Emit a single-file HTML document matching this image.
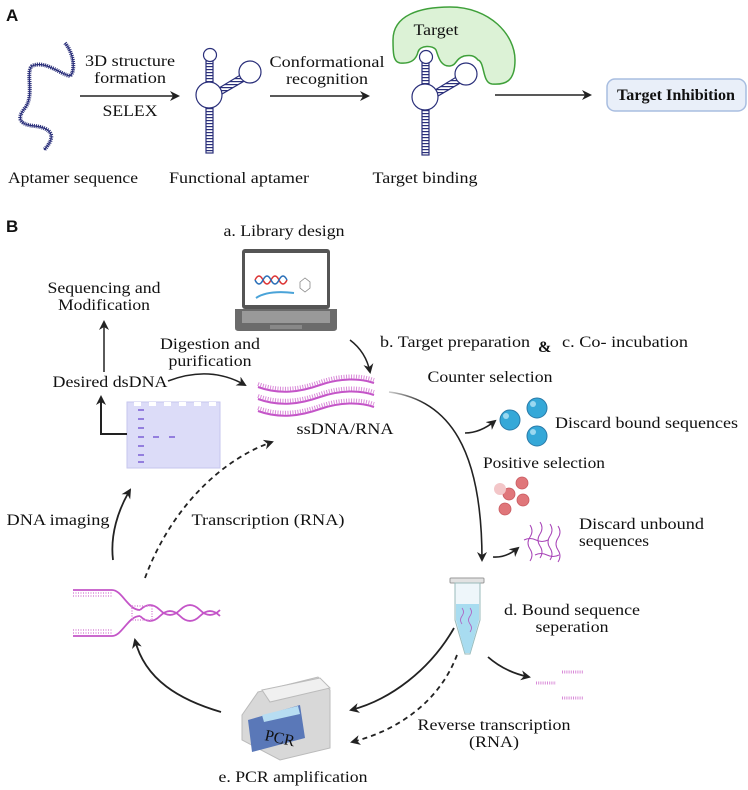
<!DOCTYPE html>
<html><head><meta charset="utf-8"><style>
html,body{margin:0;padding:0;background:#fff;}
svg{display:block;}
text{font-family:"Liberation Serif",serif;font-size:16px;fill:#111;}
.s{font-family:"Liberation Sans",sans-serif;font-weight:bold;font-size:17px;}
</style></head><body>
<svg width="748" height="790" viewBox="0 0 748 790" xmlns="http://www.w3.org/2000/svg">
<defs>
<marker id="ah" markerWidth="10" markerHeight="10" refX="8" refY="5" orient="auto" markerUnits="userSpaceOnUse"><path d="M0,0 L10,5 L0,10 L3,5 Z" fill="#222"/></marker>
<pattern id="rung" width="2" height="3" patternUnits="userSpaceOnUse"><rect width="2" height="1.2" fill="#2a2f7a"/></pattern>
<linearGradient id="fade1" x1="0" y1="0" x2="1" y2="0"><stop offset="0" stop-color="#ccc"/><stop offset="0.4" stop-color="#222"/></linearGradient>
</defs>

<!-- Panel A -->
<text class="s" x="6" y="21">A</text>
<path d="M65,43 C75,55 75,72 70,76 C60,74 45,60 32,66 C25,72 35,95 25,108 C15,120 22,125 35,126 C50,128 58,135 44,150" fill="none" stroke="#2a2f7a" stroke-width="4" stroke-dasharray="1 1"/>
<path d="M65,43 C75,55 75,72 70,76 C60,74 45,60 32,66 C25,72 35,95 25,108 C15,120 22,125 35,126 C50,128 58,135 44,150" fill="none" stroke="#2a2f7a" stroke-width="1.2"/>
<text x="130" y="66" text-anchor="middle" textLength="90" lengthAdjust="spacingAndGlyphs">3D structure</text>
<text x="130" y="83" text-anchor="middle" textLength="72" lengthAdjust="spacingAndGlyphs">formation</text>
<line x1="80" y1="96" x2="178" y2="96" stroke="#222" stroke-width="1.5" marker-end="url(#ah)"/>
<text x="130" y="116" text-anchor="middle" textLength="55" lengthAdjust="spacingAndGlyphs">SELEX</text>

<g id="apt" fill="#fff" stroke="#2a2f7a" stroke-width="1.2">
<rect x="206" y="61" width="7" height="22" fill="url(#rung)" stroke="#2a2f7a"/>
<rect x="206" y="107" width="7" height="46" fill="url(#rung)" stroke="#2a2f7a"/>
<path d="M219,88 L242,74 L246,80 L222,94 Z" fill="url(#rung)"/>
<circle cx="210" cy="55" r="6.5"/>
<circle cx="209" cy="95" r="13"/>
<circle cx="250" cy="72" r="11"/>
</g>
<text x="327" y="67" text-anchor="middle" textLength="115" lengthAdjust="spacingAndGlyphs">Conformational</text>
<text x="327" y="84" text-anchor="middle" textLength="82" lengthAdjust="spacingAndGlyphs">recognition</text>
<line x1="270" y1="96" x2="368" y2="96" stroke="#222" stroke-width="1.5" marker-end="url(#ah)"/>

<path d="M393,40 C393,15 420,7 450,7 C490,7 515,35 515,60 C515,82 505,85 492,84 C482,83 485,62 478,60 C474,55 470,55 464,56 C455,59 457,65 450,66 C440,67 438,55 436,50 C433,45 420,45 418,52 C416,60 410,64 400,63 C393,62 393,52 393,40 Z" fill="#dcf2d6" stroke="#3fa03a" stroke-width="1.5"/>
<text x="436" y="35" text-anchor="middle" textLength="45" lengthAdjust="spacingAndGlyphs">Target</text>
<use href="#apt" x="216" y="2"/>

<line x1="495" y1="95" x2="590" y2="95" stroke="#222" stroke-width="1.5" marker-end="url(#ah)"/>
<rect x="607" y="79" width="139" height="32" rx="8" fill="#e9eff9" stroke="#a8bde0" stroke-width="1.5"/>
<text x="676" y="100" text-anchor="middle" font-weight="bold" textLength="118" lengthAdjust="spacingAndGlyphs">Target Inhibition</text>

<text x="73" y="183" text-anchor="middle" textLength="130" lengthAdjust="spacingAndGlyphs">Aptamer sequence</text>
<text x="239" y="183" text-anchor="middle" textLength="140" lengthAdjust="spacingAndGlyphs">Functional aptamer</text>
<text x="425" y="183" text-anchor="middle" textLength="105" lengthAdjust="spacingAndGlyphs">Target binding</text>

<!-- Panel B -->
<text class="s" x="6" y="232">B</text>
<text x="284" y="236" text-anchor="middle" textLength="121" lengthAdjust="spacingAndGlyphs">a. Library design</text>

<!-- laptop -->
<rect x="242" y="249" width="88" height="60" rx="3" fill="#555"/>
<rect x="245" y="253" width="82" height="52" fill="#fff"/>
<path d="M255,280 q4,-8 8,0 q4,8 8,0 q4,-8 8,0 q4,8 8,0" fill="none" stroke="#d33" stroke-width="1.5"/>
<path d="M255,280 q4,8 8,0 q4,-8 8,0 q4,8 8,0 q4,-8 8,0" fill="none" stroke="#2a6fb8" stroke-width="1.5"/>
<path d="M256,298 q12,-8 38,-5" fill="none" stroke="#4aa3d8" stroke-width="2"/>
<path d="M300,282 l5,-4 l5,4 l0,6 l-5,4 l-5,-4z" fill="none" stroke="#888" stroke-width="0.8"/>
<path d="M235,309 L337,309 L337,328 Q337,331 333,331 L239,331 Q235,331 235,328 Z" fill="#6b6b6b"/>
<rect x="242" y="311" width="88" height="12" fill="#999"/>
<rect x="270" y="325" width="32" height="4" fill="#888"/>

<text x="104" y="293" text-anchor="middle" textLength="113" lengthAdjust="spacingAndGlyphs">Sequencing and</text>
<text x="104" y="310" text-anchor="middle" textLength="92" lengthAdjust="spacingAndGlyphs">Modification</text>
<line x1="104" y1="372" x2="104" y2="322" stroke="#222" stroke-width="1.5" marker-end="url(#ah)"/>
<text x="210" y="349" text-anchor="middle" textLength="100" lengthAdjust="spacingAndGlyphs">Digestion and</text>
<text x="210" y="366" text-anchor="middle" textLength="83" lengthAdjust="spacingAndGlyphs">purification</text>
<text x="110" y="387" text-anchor="middle" textLength="115" lengthAdjust="spacingAndGlyphs">Desired dsDNA</text>
<path d="M168,381 Q210,365 245,385" fill="none" stroke="#222" stroke-width="1.5" marker-end="url(#ah)"/>

<!-- gel -->
<rect x="127" y="402" width="93" height="66" fill="#dcdcf8" stroke="#c6c6ee"/>
<g fill="#fff"><rect x="134" y="402" width="7" height="4"/><rect x="149" y="402" width="7" height="4"/><rect x="164" y="402" width="7" height="4"/><rect x="179" y="402" width="7" height="4"/><rect x="194" y="402" width="7" height="4"/><rect x="209" y="402" width="7" height="4"/></g>
<g stroke="#7b5fd6" stroke-width="1.5"><line x1="138" y1="410" x2="144" y2="410"/><line x1="138" y1="419" x2="144" y2="419"/><line x1="138" y1="428" x2="144" y2="428"/><line x1="138" y1="437" x2="144" y2="437"/><line x1="138" y1="446" x2="144" y2="446"/><line x1="138" y1="455" x2="144" y2="455"/><line x1="138" y1="462" x2="144" y2="462"/><line x1="153" y1="437" x2="159" y2="437"/><line x1="169" y1="437" x2="175" y2="437"/></g>
<path d="M127,434 L101,434 L101,397" fill="none" stroke="#222" stroke-width="2" marker-end="url(#ah)"/>

<!-- ssDNA -->
<g fill="none" stroke="#c455c8" stroke-width="2">
<path d="M258,387 C280,395 300,392 320,385 C340,378 360,378 374,383"/>
<path d="M258,399 C280,407 300,404 320,397 C340,390 360,390 374,395"/>
<path d="M258,411 C280,419 300,416 320,409 C340,402 360,402 374,407"/>
</g>
<g fill="none" stroke="#d98ad8" stroke-width="4" stroke-dasharray="1 1.5">
<path d="M258,384 C280,392 300,389 320,382 C340,375 360,375 374,380"/>
<path d="M258,396 C280,404 300,401 320,394 C340,387 360,387 374,392"/>
<path d="M258,408 C280,416 300,413 320,406 C340,399 360,399 374,404"/>
</g>
<text x="345" y="434" text-anchor="middle" textLength="97" lengthAdjust="spacingAndGlyphs">ssDNA/RNA</text>
<path d="M350,340 Q366,352 370,372" fill="none" stroke="#222" stroke-width="1.5" marker-end="url(#ah)"/>

<text x="380" y="347" textLength="150" lengthAdjust="spacingAndGlyphs">b. Target preparation</text>
<text x="538" y="352" font-weight="bold" font-size="18">&amp;</text>
<text x="562" y="347" textLength="126" lengthAdjust="spacingAndGlyphs">c. Co- incubation</text>
<text x="490" y="382" text-anchor="middle" textLength="125" lengthAdjust="spacingAndGlyphs">Counter selection</text>

<path d="M389,392 C450,400 482,450 482,560" fill="none" stroke="url(#fade1)" stroke-width="1.6" marker-end="url(#ah)"/>
<path d="M465,433 Q480,433 495,421" fill="none" stroke="#222" stroke-width="1.6" marker-end="url(#ah)"/>
<g fill="#35a8d8" stroke="#2a7aa8"><circle cx="510" cy="420" r="10"/><circle cx="537" cy="408" r="10"/><circle cx="537" cy="436" r="10"/></g>
<g fill="#9bd8f0"><circle cx="506" cy="416" r="3"/><circle cx="533" cy="404" r="3"/><circle cx="533" cy="432" r="3"/></g>
<text x="555" y="428" textLength="183" lengthAdjust="spacingAndGlyphs">Discard bound sequences</text>
<text x="544" y="468" text-anchor="middle" textLength="122" lengthAdjust="spacingAndGlyphs">Positive selection</text>
<g fill="#e0767a" stroke="#c85a60" stroke-width="0.8"><circle cx="522" cy="483" r="6"/><circle cx="509" cy="494" r="6"/><circle cx="523" cy="500" r="6"/><circle cx="505" cy="509" r="6"/></g>
<circle cx="500" cy="489" r="6" fill="#f3c6c8"/>

<text x="579" y="529" textLength="125" lengthAdjust="spacingAndGlyphs">Discard unbound</text>
<text x="579" y="546" textLength="70" lengthAdjust="spacingAndGlyphs">sequences</text>
<g fill="none" stroke="#a844b8" stroke-width="1">
<path d="M530,525 q4,6 0,12 q-4,6 0,12 q4,6 0,12"/><path d="M540,522 q4,6 0,12 q-4,6 0,12 q4,6 0,12"/><path d="M550,524 q4,6 0,12 q-4,6 0,12 q4,6 0,12"/><path d="M558,526 q4,6 0,12 q-4,6 0,12 q4,6 0,12"/><path d="M524,540 q6,-3 12,0 q6,3 12,0"/><path d="M535,555 q6,-3 12,0 q6,3 12,0"/>
</g>
<path d="M493,557 Q506,558 518,548" fill="none" stroke="#222" stroke-width="1.6" marker-end="url(#ah)"/>

<!-- tube -->
<rect x="450" y="578" width="34" height="5" rx="1" fill="#e2e2e2" stroke="#999"/>
<path d="M455,583 L480,583 L480,620 L470,654 L465,654 L455,620 Z" fill="#eef6fa" stroke="#9bb" stroke-width="1"/>
<path d="M456,604 L479,604 L479,620 L470,653 L465,653 L456,620 Z" fill="#a8dcf0"/>
<path d="M462,608 q3,4 0,8 q-3,4 0,8 M470,608 q3,4 0,8 q-3,4 0,8 q3,4 0,8" fill="none" stroke="#b058c0" stroke-width="0.8"/>
<text x="572" y="615" text-anchor="middle" textLength="136" lengthAdjust="spacingAndGlyphs">d. Bound sequence</text>
<text x="572" y="632" text-anchor="middle" textLength="73" lengthAdjust="spacingAndGlyphs">seperation</text>

<text x="58" y="525" text-anchor="middle" textLength="103" lengthAdjust="spacingAndGlyphs">DNA imaging</text>
<path d="M113,560 C110,535 118,510 130,490" fill="none" stroke="#222" stroke-width="1.8" marker-end="url(#ah)"/>
<text x="268" y="525" text-anchor="middle" textLength="153" lengthAdjust="spacingAndGlyphs">Transcription (RNA)</text>
<path d="M145,578 C170,510 220,460 272,442" fill="none" stroke="#222" stroke-width="1.8" stroke-dasharray="5 4" marker-end="url(#ah)"/>

<!-- dsDNA fork -->
<g fill="none" stroke="#c455c8" stroke-width="1.8">
<path d="M73,590 L112,590 C122,590 128,610 140,610"/>
<path d="M73,636 L112,636 C122,636 128,616 140,616"/>
<path d="M140,610 q10,-10 20,0 q10,10 20,0 q10,-10 20,0 q10,10 20,0"/>
<path d="M140,616 q10,10 20,0 q10,-10 20,0 q10,10 20,0 q10,-10 20,0"/>
</g>
<g stroke="#d98ad8" stroke-width="1.5" stroke-dasharray="1 1.5">
<line x1="73" y1="593" x2="112" y2="593"/><line x1="73" y1="596" x2="112" y2="596"/>
<line x1="73" y1="633" x2="112" y2="633"/><line x1="73" y1="630" x2="112" y2="630"/>
<rect x="132" y="606" width="20" height="14" fill="none"/>
</g>

<path d="M221,712 C180,700 145,680 135,640" fill="none" stroke="#222" stroke-width="1.8" marker-end="url(#ah)"/>

<!-- PCR machine -->
<path d="M258,692 L318,677 L330,690 L330,748 L280,760 L242,740 L242,715 Z" fill="#d8d8d8" stroke="#bbb"/>
<path d="M262,690 L320,678 L330,688 L270,702 Z" fill="#f0f0f0" stroke="#bbb"/>
<path d="M248,720 L300,705 L305,738 L252,752 Z" fill="#5a78b8"/>
<path d="M262,715 L298,706 L300,714 L264,722 Z" fill="#b7ddf2"/>
<text x="264" y="740" font-family="Liberation Sans,sans-serif" font-size="11" fill="#3a4f86" transform="rotate(12 264 740)">PCR</text>

<path d="M454,628 C430,670 390,700 351,710" fill="none" stroke="#222" stroke-width="1.8" marker-end="url(#ah)"/>
<path d="M457,655 C440,700 400,730 352,742" fill="none" stroke="#222" stroke-width="1.8" stroke-dasharray="5 4" marker-end="url(#ah)"/>
<path d="M488,657 Q505,672 529,677" fill="none" stroke="#222" stroke-width="1.8" marker-end="url(#ah)"/>
<g stroke="#d98ad8" stroke-width="3" stroke-dasharray="1 1.2"><line x1="536" y1="683" x2="556" y2="683"/><line x1="562" y1="672" x2="583" y2="672"/><line x1="562" y1="698" x2="583" y2="698"/></g>
<text x="494" y="730" text-anchor="middle" textLength="153" lengthAdjust="spacingAndGlyphs">Reverse transcription</text>
<text x="494" y="747" text-anchor="middle" textLength="50" lengthAdjust="spacingAndGlyphs">(RNA)</text>
<text x="293" y="782" text-anchor="middle" textLength="149" lengthAdjust="spacingAndGlyphs">e. PCR amplification</text>
</svg>
</body></html>
